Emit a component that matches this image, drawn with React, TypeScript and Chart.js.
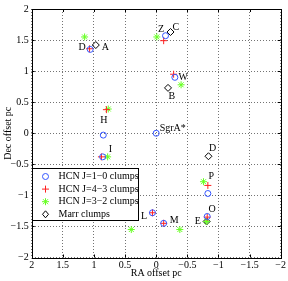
import React, { useEffect, useRef } from 'react';
import { Chart, registerables } from 'chart.js';
Chart.register(...registerables);

// HCN J=1-0 clumps (blue circles)
const hcn10X = [1.06, -0.15, -0.30, 0.85, 0.00, 0.86, -0.83, 0.06, -0.12, -0.82];
const hcn10Y = [1.35, 1.57, 0.90, -0.03, 0.00, -0.38, -0.97, -1.28, -1.45, -1.34];
// HCN J=4-3 clumps (red plus)
const hcn43X = [1.07, -0.12, -0.28, 0.80, 0.88, -0.83, 0.06, -0.12, -0.82];
const hcn43Y = [1.36, 1.49, 0.95, 0.38, -0.38, -0.84, -1.28, -1.45, -1.35];
// HCN J=3-2 clumps (green asterisk)
const hcn32X = [1.15, -0.01, -0.40, 0.77, 0.78, 0.40, -0.76, -0.38, -0.81];
const hcn32Y = [1.55, 1.55, 0.78, 0.39, -0.38, -1.55, -0.78, -1.55, -1.42];
// Marr clumps (black diamonds)
const marrX = [0.97, -0.23, -0.19, -0.84, -0.81];
const marrY = [1.42, 1.63, 0.73, -0.37, -1.42];

// Text annotations
const labelText = ['D', 'A', 'Z', 'C', 'W', 'B', 'H', 'SgrA*', 'I', 'D', 'P', 'L', 'M', 'O', 'E'];
const labelX = [1.19, 0.815, -0.08, -0.315, -0.435, -0.25, 0.84, -0.265, 0.735, -0.905, -0.885, 0.195, -0.29, -0.90, -0.67];
const labelY = [1.375, 1.385, 1.68, 1.70, 0.905, 0.595, 0.205, 0.085, -0.255, -0.245, -0.69, -1.345, -1.41, -1.22, -1.42];

const legendLabels = ['HCN J=1\u22120 clumps', 'HCN J=4\u22123 clumps', 'HCN J=3\u22122 clumps', 'Marr clumps'];
const axisMin = -2;
const axisMax = 2;
const axisStep = 0.5;

const BLUE = '#3355ff';
const RED = '#ff2020';
const GREEN = '#66ff22';
const FONT = '"Liberation Serif", "DejaVu Serif", serif';

const fmt = (v: number | string) => String(v).replace('-', '\u2212');

function drawMarker(ctx: CanvasRenderingContext2D, kind: number, x: number, y: number) {
  ctx.save();
  ctx.lineWidth = 1;
  ctx.beginPath();
  if (kind === 0) {
    ctx.strokeStyle = BLUE;
    ctx.arc(x, y, 3, 0, Math.PI * 2);
  } else if (kind === 1) {
    ctx.strokeStyle = RED;
    ctx.moveTo(x - 3.5, y); ctx.lineTo(x + 3.5, y);
    ctx.moveTo(x, y - 3.5); ctx.lineTo(x, y + 3.5);
  } else if (kind === 2) {
    ctx.strokeStyle = GREEN;
    ctx.moveTo(x - 3.5, y); ctx.lineTo(x + 3.5, y);
    ctx.moveTo(x, y - 3.5); ctx.lineTo(x, y + 3.5);
    ctx.moveTo(x - 2.5, y - 2.5); ctx.lineTo(x + 2.5, y + 2.5);
    ctx.moveTo(x - 2.5, y + 2.5); ctx.lineTo(x + 2.5, y - 2.5);
  } else {
    ctx.strokeStyle = '#000';
    ctx.moveTo(x, y - 3.5); ctx.lineTo(x + 3, y); ctx.lineTo(x, y + 3.5); ctx.lineTo(x - 3, y); ctx.closePath();
  }
  ctx.stroke();
  ctx.restore();
}

const decorPlugin = {
  id: 'decor',
  afterDraw(chart: any) {
    const ctx = chart.ctx as CanvasRenderingContext2D;
    const { left, right, top, bottom } = chart.chartArea;
    const xs = chart.scales.x;
    const ys = chart.scales.y;
    ctx.save();
    ctx.setLineDash([]);
    // box
    ctx.strokeStyle = '#000';
    ctx.lineWidth = 1;
    ctx.strokeRect(Math.round(left) + 0.5, Math.round(top) + 0.5, Math.round(right - left), Math.round(bottom - top));
    // inward ticks
    ctx.beginPath();
    xs.ticks.forEach((t: any) => {
      const px = Math.round(xs.getPixelForValue(t.value)) + 0.5;
      ctx.moveTo(px, bottom); ctx.lineTo(px, bottom - 3);
      ctx.moveTo(px, top); ctx.lineTo(px, top + 3);
    });
    ys.ticks.forEach((t: any) => {
      const py = Math.round(ys.getPixelForValue(t.value)) + 0.5;
      ctx.moveTo(left, py); ctx.lineTo(left + 3, py);
      ctx.moveTo(right, py); ctx.lineTo(right - 3, py);
    });
    ctx.stroke();
    // annotations
    ctx.fillStyle = '#000';
    ctx.font = `10px ${FONT}`;
    ctx.textAlign = 'center';
    ctx.textBaseline = 'middle';
    labelText.forEach((s, i) => {
      ctx.fillText(s, xs.getPixelForValue(labelX[i]), ys.getPixelForValue(labelY[i]));
    });
    // legend
    const lx = Math.round(left) + 0.5;
    const ly = 168.5;
    const lw = 106;
    const lh = 52;
    ctx.fillStyle = '#fff';
    ctx.fillRect(lx, ly, lw, lh);
    ctx.strokeStyle = '#000';
    ctx.strokeRect(lx, ly, lw, lh);
    ctx.fillStyle = '#000';
    ctx.textAlign = 'left';
    legendLabels.forEach((s, i) => {
      const yy = ly + 8 + i * 12.6;
      drawMarker(ctx, i, lx + 13, yy);
      ctx.fillText(s, lx + 26, yy);
    });
    ctx.restore();
  },
};

export default function App() {
  const ref = useRef<HTMLCanvasElement | null>(null);
  useEffect(() => {
    if (!ref.current) return;
    const mk = (xs: number[], ys: number[]) => xs.map((x, i) => ({ x, y: ys[i] }));
    const tickFont = { family: FONT, size: 10 };
    const gridOpts = { color: 'rgba(0,0,0,0.55)', drawTicks: false, lineWidth: 1, borderDash: [1, 2] };
    const chart = new Chart(ref.current, {
      type: 'scatter',
      data: {
        datasets: [
          { label: legendLabels[0], data: mk(hcn10X, hcn10Y), pointStyle: 'circle', pointRadius: 3, borderColor: BLUE, backgroundColor: 'rgba(0,0,0,0)', borderWidth: 1 },
          { label: legendLabels[1], data: mk(hcn43X, hcn43Y), pointStyle: 'cross', pointRadius: 3.5, borderColor: RED, backgroundColor: RED, borderWidth: 1 },
          { label: legendLabels[2], data: mk(hcn32X, hcn32Y), pointStyle: 'star', pointRadius: 3.5, borderColor: GREEN, backgroundColor: GREEN, borderWidth: 1 },
          { label: legendLabels[3], data: mk(marrX, marrY), pointStyle: 'rectRot', pointRadius: 3.5, borderColor: '#000', backgroundColor: 'rgba(0,0,0,0)', borderWidth: 1 },
        ],
      } as any,
      options: {
        animation: false,
        responsive: false,
        devicePixelRatio: 1,
        layout: { padding: { top: 2.5, right: 3.4, left: 0, bottom: 0 } },
        plugins: { legend: { display: false }, tooltip: { enabled: false } },
        scales: {
          x: {
            type: 'linear',
            min: axisMin,
            max: axisMax,
            reverse: true,
            afterFit: (s: any) => { s.height = 23.5; },
            ticks: { stepSize: axisStep, color: '#000', font: tickFont, padding: 2, maxRotation: 0, callback: (v: any) => fmt(v) },
            grid: gridOpts,
            border: { display: false, dash: [1, 2] },
            title: { display: true, text: 'RA offset pc', color: '#000', font: tickFont, padding: { top: 0, bottom: 2 } },
          },
          y: {
            type: 'linear',
            min: axisMin,
            max: axisMax,
            afterFit: (s: any) => { s.width = 31.7; },
            ticks: { stepSize: axisStep, color: '#000', font: tickFont, padding: 3, callback: (v: any) => fmt(v) },
            grid: gridOpts,
            border: { display: false, dash: [1, 2] },
            title: { display: true, text: 'Dec offset pc', color: '#000', font: tickFont, padding: { top: 2, bottom: 0 } },
          },
        },
      } as any,
      plugins: [decorPlugin],
    });
    return () => chart.destroy();
  }, []);
  return (
    <div style={{ position: 'fixed', left: 0, top: 0, width: 288, height: 281, background: '#fff' }}>
      <canvas ref={ref} width={288} height={281} style={{ width: 288, height: 281, display: 'block' }} />
    </div>
  );
}
